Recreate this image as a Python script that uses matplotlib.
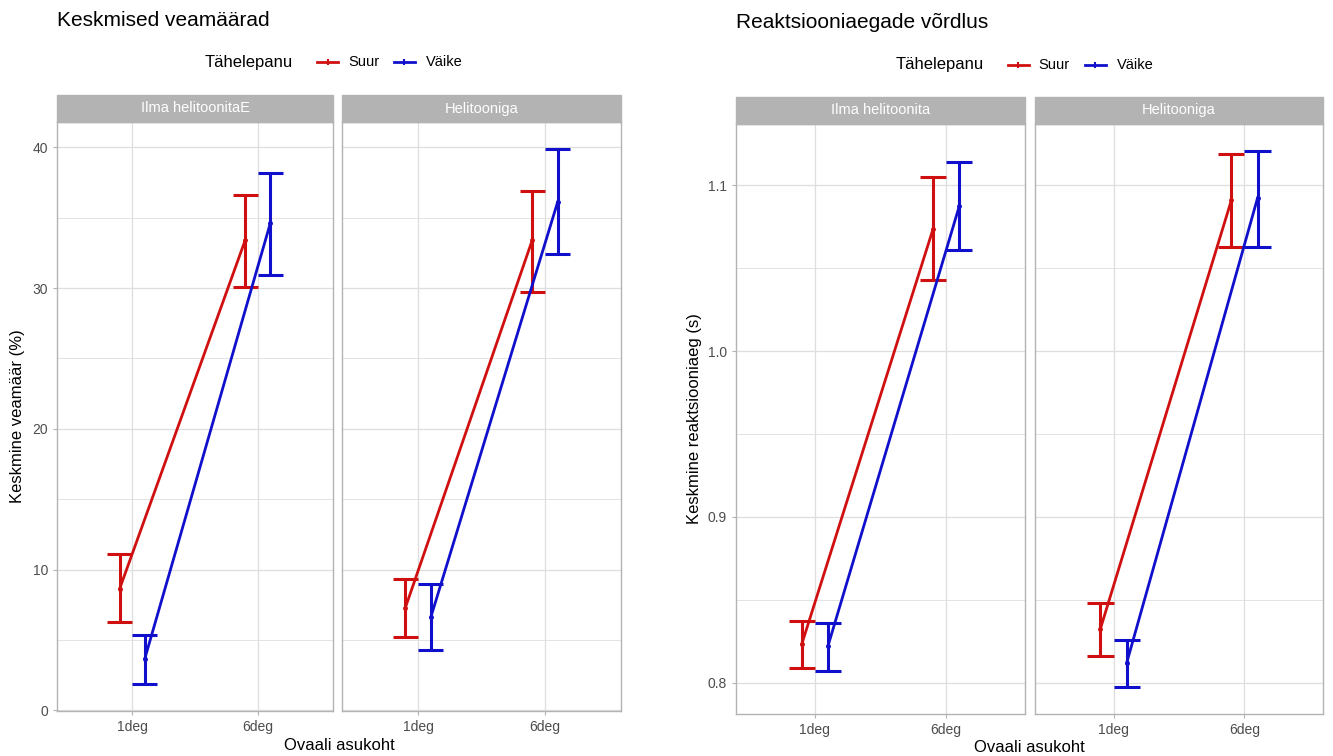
import numpy as np
import matplotlib.pyplot as plt
from matplotlib.patches import Rectangle
from matplotlib.lines import Line2D

plt.rcParams['font.family'] = ['Liberation Sans', 'DejaVu Sans']

# data: per panel, values at 1deg and 6deg
positions = ["1deg", "6deg"]
groups = ["Suur", "Väike"]

err_panels = ["Ilma helitoonitaE", "Helitooniga"]
err_suur_mean = [[8.65, 33.4], [7.3, 33.4]]
err_suur_lo = [[6.25, 30.05], [5.2, 29.7]]
err_suur_hi = [[11.1, 36.6], [9.3, 36.9]]
err_vaike_mean = [[3.67, 34.6], [6.6, 36.1]]
err_vaike_lo = [[1.86, 30.9], [4.28, 32.4]]
err_vaike_hi = [[5.36, 38.2], [8.94, 39.9]]

rt_panels = ["Ilma helitoonita", "Helitooniga"]
rt_suur_mean = [[0.823, 1.0736], [0.8325, 1.091]]
rt_suur_lo = [[0.8085, 1.043], [0.816, 1.0625]]
rt_suur_hi = [[0.837, 1.105], [0.848, 1.119]]
rt_vaike_mean = [[0.822, 1.0875], [0.8117, 1.0923]]
rt_vaike_lo = [[0.807, 1.061], [0.797, 1.063]]
rt_vaike_hi = [[0.836, 1.114], [0.8256, 1.121]]

RED = "#D01010"
BLUE = "#1010CC"
GRID = "#DEDEDE"
BORDER = "#B3B3B3"

W, H = 1333, 756
fig = plt.figure(figsize=(W / 100, H / 100), dpi=100)


def box(x0, y0, x1, y1):
    return [x0 / W, 1 - y1 / H, (x1 - x0) / W, (y1 - y0) / H]


def draw_panel(ax, label, series, ylim, major, minor, show_y):
    x = np.arange(len(positions))
    for (mean, lo, hi, col, off) in series:
        xs = x + off
        ax.plot(xs, mean, color=col, lw=2, marker='o', ms=2.5, zorder=3)
        ax.vlines(xs, lo, hi, color=col, lw=2.2, zorder=3)
        ax.hlines(lo, xs - 0.1, xs + 0.1, color=col, lw=2.2, zorder=3)
        ax.hlines(hi, xs - 0.1, xs + 0.1, color=col, lw=2.2, zorder=3)
    ax.set_xlim(-0.6, 1.6)
    ax.set_ylim(*ylim)
    ax.set_xticks(x)
    ax.set_xticklabels(positions)
    ax.set_yticks(major)
    ax.set_yticks(minor, minor=True)
    ax.grid(True, which='major', color=GRID, lw=0.9, zorder=0)
    ax.grid(True, which='minor', axis='y', color=GRID, lw=0.6, zorder=0)
    ax.set_axisbelow(True)
    for s in ax.spines.values():
        s.set_color(BORDER)
        s.set_linewidth(1.0)
    ax.tick_params(which='major', colors=BORDER, labelcolor='#4D4D4D',
                   labelsize=10, length=3, width=0.8)
    ax.tick_params(which='minor', length=0)
    if not show_y:
        ax.tick_params(axis='y', left=False, labelleft=False)
    # facet strip
    ax.add_patch(Rectangle((0, 1), 1, 27 / 589, transform=ax.transAxes,
                           color=BORDER, clip_on=False, zorder=5))
    ax.text(0.5, 1 + 13.5 / 589, label, transform=ax.transAxes, ha='center',
            va='center', color='white', fontsize=10.5, zorder=6)


def legend_key(xpix, ypix, col):
    y = 1 - ypix / H
    fig.add_artist(Line2D([xpix / W, (xpix + 21) / W], [y, y], color=col,
                          lw=2, transform=fig.transFigure))
    fig.add_artist(Line2D([(xpix + 10.5) / W], [y], color=col, marker='|',
                          ms=4, mew=1.5, transform=fig.transFigure))


def draw_chart(boxes, panels, data, ylim, major, minor, title, ylabel,
               title_xy, leg_y, xlab_y, ylab_x):
    smean, slo, shi, vmean, vlo, vhi = data
    axes = []
    for i, b in enumerate(boxes):
        ax = fig.add_axes(box(*b))
        series = [(smean[i], slo[i], shi[i], RED, -0.1),
                  (vmean[i], vlo[i], vhi[i], BLUE, 0.1)]
        draw_panel(ax, panels[i], series, ylim, major, minor, i == 0)
        axes.append(ax)
    x0 = boxes[0][0]
    x1 = boxes[-1][2]
    yc = (boxes[0][1] + boxes[0][3]) / 2
    fig.text(title_xy[0] / W, 1 - title_xy[1] / H, title, fontsize=15,
             va='center', ha='left')
    xc = (x0 + x1) / 2
    ly = 1 - leg_y / H
    fig.text((xc - 46) / W, ly, "Tähelepanu", fontsize=12,
             ha='right', va='center')
    legend_key(xc - 22, leg_y, RED)
    fig.text((xc + 9) / W, ly, groups[0], fontsize=10.5, ha='left', va='center')
    legend_key(xc + 55, leg_y, BLUE)
    fig.text((xc + 87) / W, ly, groups[1], fontsize=10.5, ha='left', va='center')
    fig.text(xc / W, 1 - xlab_y / H, "Ovaali asukoht", fontsize=12,
             ha='center', va='center')
    fig.text(ylab_x / W, 1 - yc / H, ylabel, fontsize=12, rotation=90,
             ha='center', va='center')
    return axes


draw_chart([(57, 122, 333, 711), (342, 122, 621, 711)], err_panels,
           (err_suur_mean, err_suur_lo, err_suur_hi,
            err_vaike_mean, err_vaike_lo, err_vaike_hi),
           (-0.05, 41.8), [0, 10, 20, 30, 40], [5, 15, 25, 35],
           "Keskmised veamäärad", "Keskmine veamäär (%)",
           (57, 20), 62, 745, 18)

draw_chart([(736, 124, 1025, 714), (1035, 124, 1323, 714)], rt_panels,
           (rt_suur_mean, rt_suur_lo, rt_suur_hi,
            rt_vaike_mean, rt_vaike_lo, rt_vaike_hi),
           (0.781, 1.137), [0.8, 0.9, 1.0, 1.1], [0.85, 0.95, 1.05],
           "Reaktsiooniaegade võrdlus", "Keskmine reaktsiooniaeg (s)",
           (736, 22), 65, 748, 695)

fig.savefig("out.png", dpi=100)
